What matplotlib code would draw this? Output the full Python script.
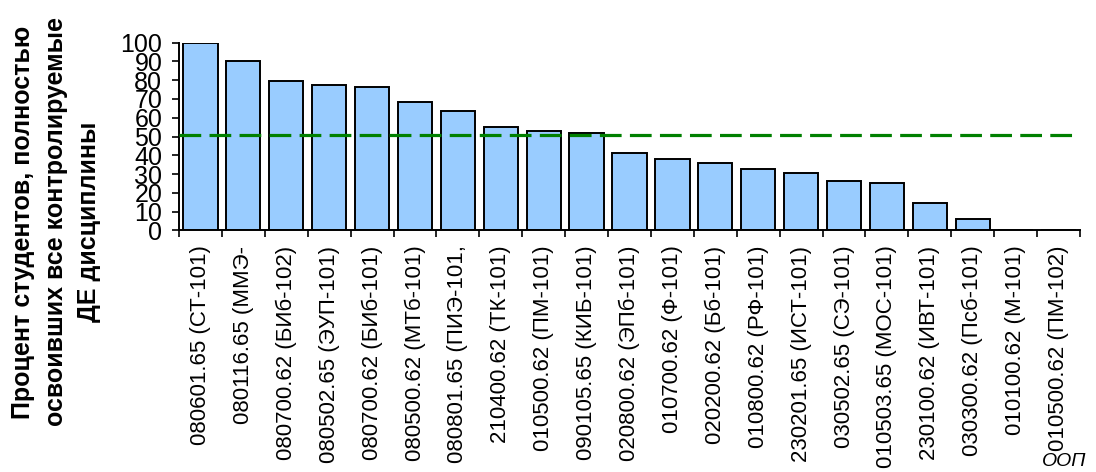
import matplotlib
matplotlib.use("Agg")
import matplotlib.pyplot as plt
import numpy as np

plt.rcParams["font.family"] = ["Liberation Sans", "DejaVu Sans"]

# programmes (OOP) and share of students who mastered all units
programs = [
    "080601.65 (СТ-101)",
    "080116.65 (ММЭ-",
    "080700.62 (БИб-102)",
    "080502.65 (ЭУП-101)",
    "080700.62 (БИб-101)",
    "080500.62 (МТб-101)",
    "080801.65 (ПИЭ-101,",
    "210400.62 (ТК-101)",
    "010500.62 (ПМ-101)",
    "090105.65 (КИБ-101)",
    "020800.62 (ЭПб-101)",
    "010700.62 (Ф-101)",
    "020200.62 (Бб-101)",
    "010800.62 (РФ-101)",
    "230201.65 (ИСТ-101)",
    "030502.65 (СЭ-101)",
    "010503.65 (МОС-101)",
    "230100.62 (ИВТ-101)",
    "030300.62 (Псб-101)",
    "010100.62 (М-101)",
    "010500.62 (ПМ-102)",
]
percent = [100, 90.3, 79.8, 77.6, 76.4, 68.2, 63.8, 55.2, 53.2, 52.0,
           41.4, 38.2, 36.0, 32.8, 30.7, 26.4, 25.4, 14.7, 6.2, 0, 0]
threshold = 50.6
yticks = list(range(0, 101, 10))

fig = plt.figure(figsize=(10.96, 4.72), dpi=100)
ax = fig.add_axes([0.1633, 0.5121, 0.8221, 0.3974])

x = np.arange(len(programs))
ax.bar(x, percent, width=0.8, color="#99CCFF", edgecolor="black", linewidth=1.4, zorder=2)
ax.axhline(threshold, color="#008000", lw=2.3, dashes=(6.8, 2.6), zorder=3)

ax.set_xlim(-0.5, len(programs) - 0.5)
ax.set_ylim(0, 100)
ax.set_yticks(yticks)
ax.tick_params(axis="y", direction="out", length=5, width=1.2, pad=7, labelsize=18)

# labels at category centres, tick marks at category boundaries
ax.set_xticks(x)
ax.set_xticklabels(programs, rotation=90, va="top", ha="center", fontsize=16)
ax.tick_params(axis="x", which="major", length=0, pad=11)
ax.set_xticks(np.arange(-0.5, len(programs)), minor=True)
ax.tick_params(axis="x", which="minor", direction="out", length=5, width=1.2)

for s in ["top", "right"]:
    ax.spines[s].set_visible(False)
for s in ["left", "bottom"]:
    ax.spines[s].set_linewidth(1.4)

fig.text(56 / 1096, 1 - 222 / 472,
         "Процент студентов, полностью\nосвоивших все контролируемые\nДЕ дисциплины",
         rotation=90, ha="center", va="center", multialignment="center",
         fontsize=18, fontweight="bold", linespacing=1.45)
fig.text(1086 / 1096, 1 - 462 / 472, "ООП", ha="right", va="center",
         fontsize=14, style="italic")

fig.savefig("out.png", dpi=100)
